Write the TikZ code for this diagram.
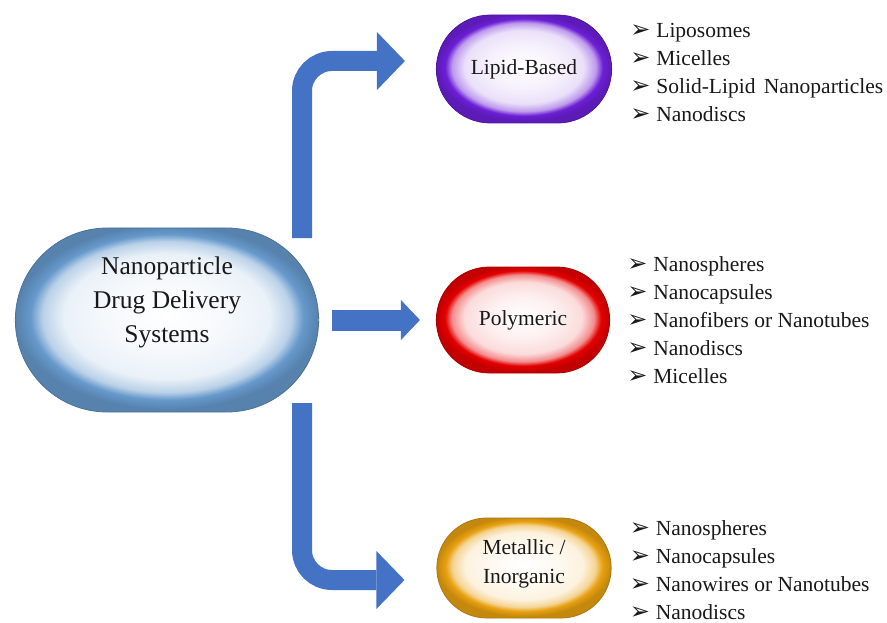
\documentclass[tikz,border=0pt]{standalone}
\usepackage{fontspec}
\setmainfont{Liberation Serif}
\newfontfamily\dejavu{DejaVu Sans}
\usetikzlibrary{shapes.misc,arrows.meta,positioning}
\definecolor{arrowblue}{HTML}{4472C4}
\definecolor{mainrim}{HTML}{6699CC}
\definecolor{lipidrim}{HTML}{6C1FD6}
\definecolor{polyrim}{HTML}{E40000}
\definecolor{metalrim}{HTML}{E8A010}
\colorlet{pillcol}{mainrim}
\pgfdeclareradialshading[pillcol]{pillglow}{\pgfpoint{0bp}{1.5bp}}{color(0bp)=(white); color(10bp)=(pillcol!6!white); color(17bp)=(pillcol!14!white); color(20.5bp)=(pillcol!45!white); color(22.5bp)=(pillcol); color(25bp)=(pillcol!85!black); color(50bp)=(pillcol!85!black)}
\newcommand{\bul}{\raisebox{0pt}[0pt][0pt]{\dejavu\fontsize{24}{24}\selectfont ➢}\hspace{6pt}}

\begin{document}
\begin{tikzpicture}[x=1pt,y=-1pt,pill color/.code={\colorlet{pillcol}{#1}}]
                        \tikzstyle{pill}=[rounded rectangle, draw=pillcol!75!black, line width=0.8pt, shading=pillglow, text=black!90, align=center, font=\fontsize{21.5}{29}\selectfont]
                        \tikzstyle{itemlist}=[align=left, inner sep=0pt, text=black!90, font=\fontsize{21.5}{28}\selectfont]
                        \tikzstyle{bigarrow}=[arrowblue, line width=20pt, rounded corners=30pt, -{Triangle[length=28pt, width=58pt, line width=0pt]}]
                        \useasboundingbox (0,0) rectangle (887,623);
                        \node[pill color=mainrim, pill, minimum width=310pt, minimum height=184pt, text depth=40pt, font=\fontsize{25.5}{34}\selectfont] (main) at (167,320) {Nanoparticle\\Drug Delivery\\Systems};
                        \node[pill color=lipidrim, pill, minimum width=182pt, minimum height=108pt] (lipid) at (524,69) {Lipid-Based};
                        \node[pill color=polyrim, pill, minimum width=180pt, minimum height=106pt] (poly) at (523,320) {Polymeric};
                        \node[pill color=metalrim, pill, minimum width=181pt, minimum height=100pt, text depth=12pt] (metal) at (524,568) {Metallic /\\Inorganic};
                        \node[itemlist, right=18pt of lipid, yshift=-3pt] (lipidlist) {\bul Liposomes\\ \bul Micelles\\ \bul Solid-Lipid\hspace{3pt} Nanoparticles\\ \bul Nanodiscs};
                        \node[itemlist, right=17pt of poly] (polylist) {\bul Nanospheres\\ \bul Nanocapsules\\ \bul Nanofibers or Nanotubes\\ \bul Nanodiscs\\ \bul Micelles};
                        \node[itemlist, right=18pt of metal, yshift=-2pt] (metallist) {\bul Nanospheres\\ \bul Nanocapsules\\ \bul Nanowires or Nanotubes\\ \bul Nanodiscs};
                        \coordinate (up) at (302,238);
                        \coordinate (down) at (302,403);
                        \draw[bigarrow] (up) |- ([xshift=-31pt,yshift=8pt]lipid.west);
                        \draw[bigarrow, line width=21pt, -{Triangle[length=19pt, width=40pt, line width=0pt]}, shorten <=13pt, shorten >=16pt] (main.east) -- (poly.west);
                        \draw[bigarrow] (down) |- ([xshift=-32pt,yshift=-12pt]metal.west);
                    \end{tikzpicture}
\end{document}
